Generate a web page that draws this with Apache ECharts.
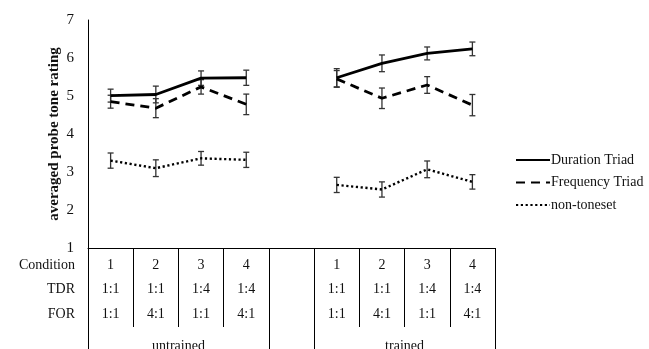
<!DOCTYPE html>
<html>
<head>
<meta charset="utf-8">
<script src="https://cdn.jsdelivr.net/npm/echarts@6/dist/echarts.min.js"></script>
<style>
  html, body { margin: 0; padding: 0; background: #fff; }
  #chart { width: 649px; height: 349px; }
</style>
</head>
<body>
<div id="chart"></div>
<script>
// Condition table (gap column between the two groups)
const conditions = ['1', '2', '3', '4', '', '1', '2', '3', '4'];
const tdrRatios  = ['1:1', '1:1', '1:4', '1:4', '', '1:1', '1:1', '1:4', '1:4'];
const forRatios  = ['1:1', '4:1', '1:1', '4:1', '', '1:1', '4:1', '1:1', '4:1'];
const rowHeaders = ['Condition', 'TDR', 'FOR'];
const groups = [
  { name: 'untrained', first: 0, last: 3 },
  { name: 'trained', first: 5, last: 8 }
];

// Mean ratings and error-bar half widths
const durationMean  = [5.01, 5.04, 5.47, 5.48, null, 5.48, 5.86, 6.12, 6.24];
const durationErr   = [0.17, 0.22, 0.19, 0.20, null, 0.24, 0.22, 0.17, 0.18];
const frequencyMean = [4.85, 4.68, 5.24, 4.78, null, 5.45, 4.94, 5.29, 4.76];
const frequencyErr  = [0.17, 0.25, 0.19, 0.27, null, 0.22, 0.27, 0.22, 0.28];
const nonToneMean   = [3.30, 3.10, 3.36, 3.32, null, 2.66, 2.54, 3.07, 2.74];
const nonToneErr    = [0.20, 0.22, 0.18, 0.20, null, 0.20, 0.20, 0.22, 0.19];

const yTicks = [1, 2, 3, 4, 5, 6, 7];

const FONT = '"Liberation Serif", "Times New Roman", serif';
const INK = '#111';

const chart = echarts.init(document.getElementById('chart'), null, { renderer: 'canvas' });

function errorData(mean, err) {
  return mean.map((m, i) => (m == null ? [i, '-', '-'] : [i, m - err[i], m + err[i]]));
}

function errorSeries(mean, err) {
  return {
    type: 'custom',
    silent: true,
    z: 3,
    data: errorData(mean, err),
    renderItem(params, api) {
      const lo = api.value(1), hi = api.value(2);
      if (isNaN(lo) || isNaN(hi)) return null;
      const pLo = api.coord([api.value(0), lo]);
      const pHi = api.coord([api.value(0), hi]);
      const cap = 3;
      const st = { stroke: '#333', lineWidth: 1.3 };
      return {
        type: 'group',
        children: [
          { type: 'line', shape: { x1: pLo[0], y1: pLo[1], x2: pHi[0], y2: pHi[1] }, style: st },
          { type: 'line', shape: { x1: pLo[0] - cap, y1: pLo[1], x2: pLo[0] + cap, y2: pLo[1] }, style: st },
          { type: 'line', shape: { x1: pHi[0] - cap, y1: pHi[1], x2: pHi[0] + cap, y2: pHi[1] }, style: st }
        ]
      };
    }
  };
}

function lineSeries(name, data, type, width) {
  return {
    name,
    type: 'line',
    data,
    symbol: 'none',
    connectNulls: false,
    z: 4,
    lineStyle: { color: '#000', width, type, cap: 'butt' },
    itemStyle: { color: '#000' }
  };
}

const option = {
  animation: false,
  backgroundColor: '#fff',
  grid: { left: 88, right: 154, top: 20, bottom: 101 },
  legend: {
    orient: 'vertical',
    left: 510,
    top: 148,
    itemWidth: 34,
    itemHeight: 14,
    itemGap: 8.5,
    itemStyle: { opacity: 0 },
    textStyle: { fontFamily: FONT, fontSize: 14, color: INK, padding: [0, 0, 0, -4] },
    data: ['Duration Triad', 'Frequency Triad', 'non-toneset']
  },
  xAxis: {
    type: 'category',
    data: conditions,
    boundaryGap: true,
    axisLine: { lineStyle: { color: '#000', width: 1 } },
    axisTick: { show: true, interval: 0, length: 79, lineStyle: { color: '#000', width: 1 } },
    axisLabel: {
      interval: 0,
      margin: 5,
      fontFamily: FONT,
      fontSize: 14,
      color: INK,
      lineHeight: 24.5,
      formatter: (v, i) => [conditions[i], tdrRatios[i], forRatios[i]].join('\n')
    }
  },
  yAxis: {
    type: 'value',
    min: yTicks[0],
    max: yTicks[yTicks.length - 1],
    interval: 1,
    name: 'averaged probe tone rating',
    nameLocation: 'middle',
    nameGap: 26,
    nameMoveOverlap: false,
    nameTextStyle: { fontFamily: FONT, fontSize: 15, fontWeight: 'bold', color: INK },
    axisLine: { show: true, lineStyle: { color: '#000', width: 1 } },
    axisTick: { show: false },
    splitLine: { show: false },
    axisLabel: { fontFamily: FONT, fontSize: 15, color: INK, margin: 14 }
  },
  series: [
    lineSeries('Duration Triad', durationMean, 'solid', 2.8),
    lineSeries('Frequency Triad', frequencyMean, [9, 6], 2.8),
    lineSeries('non-toneset', nonToneMean, [2.2, 2.6], 2.4),
    errorSeries(durationMean, durationErr),
    errorSeries(frequencyMean, frequencyErr),
    errorSeries(nonToneMean, nonToneErr)
  ]
};

chart.setOption(option);

// Table decorations placed from the category axis scale
function drawTable() {
  const x0 = chart.convertToPixel({ xAxisIndex: 0 }, 0);
  const x1 = chart.convertToPixel({ xAxisIndex: 0 }, 1);
  const band = x1 - x0;
  const yBase = chart.convertToPixel({ yAxisIndex: 0 }, yTicks[0]);
  const tickEnd = yBase + 79;
  const bottom = chart.getHeight();
  const edge = (i) => chart.convertToPixel({ xAxisIndex: 0 }, i) - band / 2;

  const elements = [];
  // group boundaries run down through the group-name row
  const bounds = [edge(groups[0].first), edge(groups[0].last + 1), edge(groups[1].first), edge(groups[1].last + 1)];
  bounds.forEach((x) => {
    elements.push({
      type: 'line',
      shape: { x1: Math.round(x) + 0.5, y1: tickEnd, x2: Math.round(x) + 0.5, y2: bottom },
      style: { stroke: '#000', lineWidth: 1 }
    });
  });
  groups.forEach((g) => {
    const cx = (edge(g.first) + edge(g.last + 1)) / 2;
    elements.push({
      type: 'text',
      x: cx,
      y: yBase + 98,
      style: { text: g.name, fontFamily: FONT, fontSize: 14, fill: INK, align: 'center', verticalAlign: 'middle' }
    });
  });
  rowHeaders.forEach((t, r) => {
    elements.push({
      type: 'text',
      x: edge(0) - 13,
      y: yBase + 17 + r * 24.5,
      style: { text: t, fontFamily: FONT, fontSize: 14, fill: INK, align: 'right', verticalAlign: 'middle' }
    });
  });
  chart.setOption({ graphic: { elements } });
}
drawTable();
</script>
</body>
</html>
